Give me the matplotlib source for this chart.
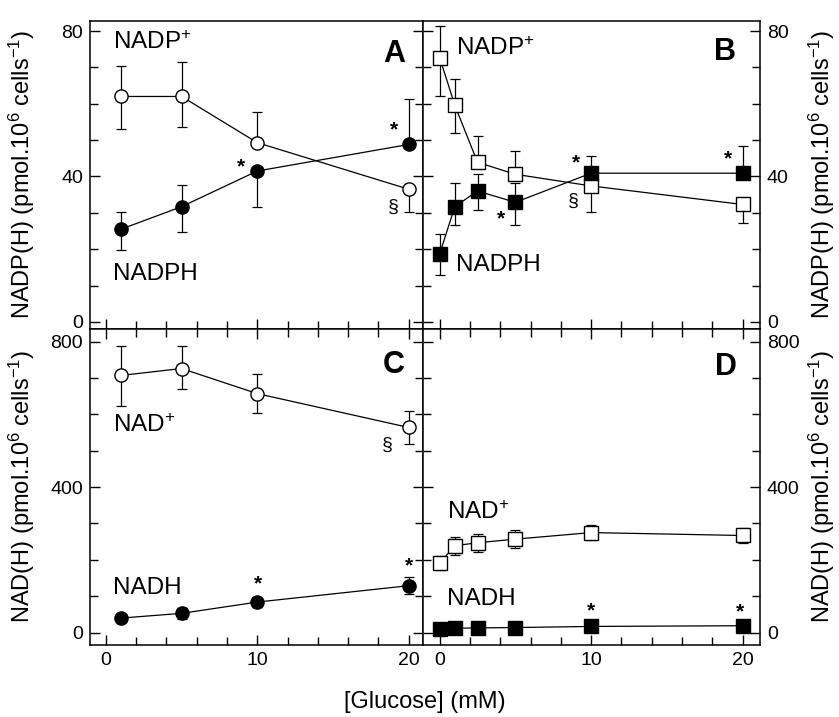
import numpy as np
import matplotlib
matplotlib.use('Agg')
import matplotlib.pyplot as plt
from matplotlib.ticker import MultipleLocator

plt.rcParams['font.family'] = ['Liberation Sans', 'DejaVu Sans']
plt.rcParams['mathtext.fontset'] = 'custom'
plt.rcParams['mathtext.rm'] = 'Liberation Sans'
plt.rcParams['mathtext.it'] = 'Liberation Sans:italic'
plt.rcParams['mathtext.bf'] = 'Liberation Sans:bold'

# glucose concentrations (mM)
glc_ac = [1, 5, 10, 20]
glc_bd = [0, 1, 2.5, 5, 10, 20]

# panel A (circles)
a_nadp = [62, 62, 49.3, 36.5]
a_nadp_lo = [9, 8.5, 0, 6.4]
a_nadp_hi = [8.5, 9.5, 8.3, 0]
a_nadph = [25.5, 31.7, 41.5, 48.8]
a_nadph_lo = [5.7, 7.1, 10, 0]
a_nadph_hi = [4.8, 5.9, 0, 12.5]

# panel B (squares)
b_nadp = [72.7, 59.6, 43.9, 40.6, 37.4, 32.3]
b_nadp_lo = [10.5, 7.6, 0, 0, 7.3, 5]
b_nadp_hi = [8.7, 7.2, 7.3, 6.4, 0, 0]
b_nadph = [18.7, 31.7, 36, 32.9, 40.9, 40.9]
b_nadph_lo = [5.8, 5.1, 5.2, 6.3, 0, 0]
b_nadph_hi = [5.4, 6.6, 4.7, 5.2, 4.8, 7.5]

# panel C (circles)
c_nad = [707, 726, 657, 564]
c_nad_lo = [83, 57, 53, 45]
c_nad_hi = [80, 62, 55, 45]
c_nadh = [40, 53, 84, 129]
c_nadh_err = [10, 15, 14, 24]

# panel D (squares)
d_nad = [191, 239, 247, 257, 275, 267]
d_nad_err = [20, 25, 24, 24, 21, 20]
d_nadh = [10, 12, 13, 14, 17, 19]
d_nadh_err = [5, 5, 5, 5, 5, 5]


def series(ax, x, y, lo, hi, marker, filled):
    ax.errorbar(x, y, yerr=[lo, hi], fmt='none', ecolor='k', elinewidth=0.9,
                capsize=3.5, capthick=0.9, zorder=2)
    ax.plot(x, y, '-', color='k', lw=0.9, marker=marker, ms=9.5,
            mfc='k' if filled else 'white', mec='k', mew=1.0, zorder=3)


fig = plt.figure(figsize=(8.39, 7.17), dpi=100)
L, M, R = 90/839, 423/839, 760/839
T, Mi, B = 1-21/717, 1-328.5/717, 1-645/717
axA = fig.add_axes([L, Mi, M-L, T-Mi])
axB = fig.add_axes([M, Mi, R-M, T-Mi])
axC = fig.add_axes([L, B, M-L, Mi-B])
axD = fig.add_axes([M, B, R-M, Mi-B])

series(axA, glc_ac, a_nadp, a_nadp_lo, a_nadp_hi, 'o', False)
series(axA, glc_ac, a_nadph, a_nadph_lo, a_nadph_hi, 'o', True)
series(axB, glc_bd, b_nadp, b_nadp_lo, b_nadp_hi, 's', False)
series(axB, glc_bd, b_nadph, b_nadph_lo, b_nadph_hi, 's', True)
series(axC, glc_ac, c_nad, c_nad_lo, c_nad_hi, 'o', False)
series(axC, glc_ac, c_nadh, c_nadh_err, c_nadh_err, 'o', True)
series(axD, glc_bd, d_nad, d_nad_err, d_nad_err, 's', False)
series(axD, glc_bd, d_nadh, d_nadh_err, d_nadh_err, 's', True)

for ax in (axA, axC):
    ax.set_xlim(-1.05, 20.95)
for ax in (axB, axD):
    ax.set_xlim(-1.1, 21.15)
for ax in (axA, axB):
    ax.set_ylim(-1.8, 82.75)
    ax.yaxis.set_major_locator(MultipleLocator(40))
    ax.yaxis.set_minor_locator(MultipleLocator(10))
for ax in (axC, axD):
    ax.set_ylim(-34, 836)
    ax.yaxis.set_major_locator(MultipleLocator(400))
    ax.yaxis.set_minor_locator(MultipleLocator(100))

for ax in (axA, axB, axC, axD):
    ax.xaxis.set_major_locator(MultipleLocator(10))
    ax.xaxis.set_minor_locator(MultipleLocator(2))
    ax.tick_params(which='both', direction='in', left=True, right=True,
                   bottom=True, top=ax in (axC, axD), width=1, labelsize=14,
                   pad=5)
    ax.tick_params(which='major', length=7)
    ax.tick_params(which='minor', length=5.5)
    for s in ax.spines.values():
        s.set_linewidth(1.1)

axA.tick_params(labelbottom=False)
axB.tick_params(labelbottom=False, labelleft=False, labelright=True)
axD.tick_params(labelleft=False, labelright=True)

lab = dict(fontsize=17.5, va='center', ha='left')
let = dict(fontsize=22, fontweight='bold', va='center', ha='center')
star = dict(fontsize=15, fontweight='bold', va='center', ha='center')
sec = dict(fontsize=14, va='center', ha='center')

axA.text(0.46, 76.7, r'NADP$\mathregular{^{+}}$', **lab)
axA.text(0.46, 13.2, 'NADPH', **lab)
axA.text(19.05, 73.7, 'A', **let)
axA.text(8.9, 42.5, '*', **star)
axA.text(19.05, 52.7, '*', **star)
axA.text(19.0, 31.6, '§', **sec)

axB.text(1.1, 75.3, r'NADP$\mathregular{^{+}}$', **lab)
axB.text(1.1, 15.7, 'NADPH', **lab)
axB.text(18.86, 74.2, 'B', **let)
axB.text(8.98, 43.6, '*', **star)
axB.text(4.08, 28.4, '*', **star)
axB.text(19.04, 44.9, '*', **star)
axB.text(8.85, 33.3, '§', **sec)

axC.text(0.46, 568, r'NAD$\mathregular{^{+}}$', **lab)
axC.text(0.46, 123, 'NADH', **lab)
axC.text(19.05, 736, 'C', **let)
axC.text(10.05, 133, '*', **star)
axC.text(20.04, 183, '*', **star)
axC.text(18.6, 516, '§', **sec)

axD.text(0.48, 329, r'NAD$\mathregular{^{+}}$', **lab)
axD.text(0.48, 92.6, 'NADH', **lab)
axD.text(18.9, 730, 'D', **let)
axD.text(10.0, 60, '*', **star)
axD.text(19.8, 56, '*', **star)

ylab_top = r'NADP(H) (pmol.10$\mathregular{^{6}}$ cells$\mathregular{^{-1}}$)'
ylab_bot = r'NAD(H) (pmol.10$\mathregular{^{6}}$ cells$\mathregular{^{-1}}$)'
fig.text(0.026, 0.756, ylab_top, rotation=90, va='center', ha='center', fontsize=17)
fig.text(0.026, 0.321, ylab_bot, rotation=90, va='center', ha='center', fontsize=17)
fig.text(0.98, 0.756, ylab_top, rotation=90, va='center', ha='center', fontsize=17)
fig.text(0.98, 0.321, ylab_bot, rotation=90, va='center', ha='center', fontsize=17)
fig.text(0.506, 0.021, '[Glucose] (mM)', va='center', ha='center', fontsize=17)

fig.savefig('out.png', dpi=100)
